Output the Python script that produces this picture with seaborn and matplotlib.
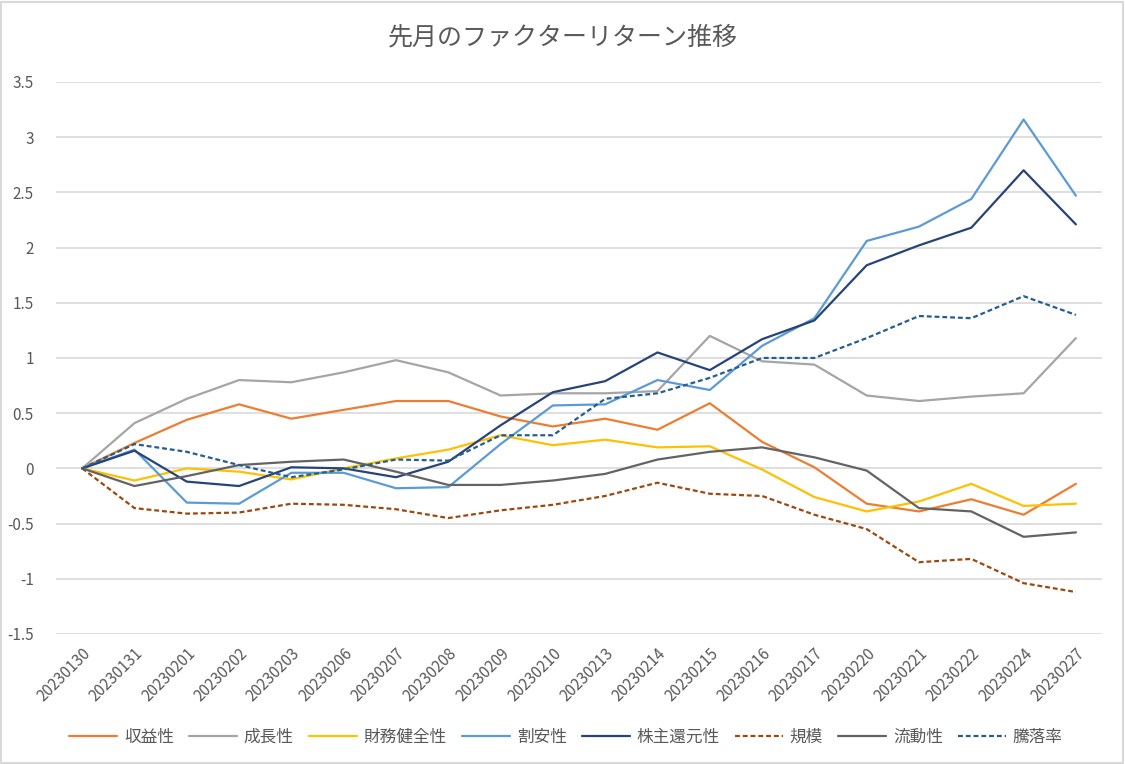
import matplotlib
matplotlib.use("Agg")
import matplotlib.pyplot as plt
import pandas as pd
import seaborn as sns

dates = ["20230130", "20230131", "20230201", "20230202", "20230203", "20230206",
         "20230207", "20230208", "20230209", "20230210", "20230213", "20230214",
         "20230215", "20230216", "20230217", "20230220", "20230221", "20230222",
         "20230224", "20230227"]

shueki = [0, 0.23, 0.44, 0.58, 0.45, 0.53, 0.61, 0.61, 0.47, 0.38,
          0.45, 0.35, 0.59, 0.24, 0.01, -0.32, -0.39, -0.28, -0.42, -0.14]
seicho = [0, 0.41, 0.63, 0.80, 0.78, 0.87, 0.98, 0.87, 0.66, 0.68,
          0.68, 0.70, 1.20, 0.97, 0.94, 0.66, 0.61, 0.65, 0.68, 1.18]
zaimu = [0, -0.11, 0.0, -0.03, -0.10, 0.0, 0.09, 0.17, 0.30, 0.21,
         0.26, 0.19, 0.20, -0.01, -0.26, -0.39, -0.30, -0.14, -0.34, -0.32]
wariyasu = [0, 0.17, -0.31, -0.32, -0.04, -0.04, -0.18, -0.17, 0.22, 0.57,
            0.58, 0.80, 0.71, 1.11, 1.36, 2.06, 2.19, 2.44, 3.16, 2.47]
kabunushi = [0, 0.16, -0.12, -0.16, 0.01, 0.0, -0.08, 0.06, 0.39, 0.69,
             0.79, 1.05, 0.89, 1.17, 1.34, 1.84, 2.02, 2.18, 2.70, 2.21]
kibo = [0, -0.36, -0.41, -0.40, -0.32, -0.33, -0.37, -0.45, -0.38, -0.33,
        -0.25, -0.13, -0.23, -0.25, -0.42, -0.55, -0.85, -0.82, -1.04, -1.12]
ryudo = [0, -0.16, -0.07, 0.03, 0.06, 0.08, -0.03, -0.15, -0.15, -0.11,
         -0.05, 0.08, 0.15, 0.19, 0.10, -0.02, -0.36, -0.39, -0.62, -0.58]
toraku = [0, 0.22, 0.15, 0.03, -0.08, -0.01, 0.08, 0.07, 0.30, 0.30,
          0.63, 0.68, 0.82, 1.00, 1.00, 1.18, 1.38, 1.36, 1.56, 1.39]

names = ["収益性", "成長性", "財務健全性", "割安性", "株主還元性", "規模", "流動性", "騰落率"]
series = [shueki, seicho, zaimu, wariyasu, kabunushi, kibo, ryudo, toraku]

colors = {"収益性": "#ED7D31", "成長性": "#A5A5A5", "財務健全性": "#FFC000", "割安性": "#5B9BD5",
          "株主還元性": "#264478", "規模": "#9E480E", "流動性": "#636363", "騰落率": "#255E91"}
dash_dict = {n: "" for n in names}
dash_dict["規模"] = (2.2, 1.3)
dash_dict["騰落率"] = (2.2, 1.3)

rows = []
for n, vals in zip(names, series):
    for d, v in zip(dates, vals):
        rows.append({"date": d, "factor": n, "value": v})
df = pd.DataFrame(rows)

sns.set_style("white")
plt.rcParams['font.family'] = ['Noto Sans CJK JP', 'DejaVu Sans']
txt = "#595959"

fig = plt.figure(figsize=(11.25, 7.64), dpi=100)
ax = fig.add_axes([0.0498, 0.1702, 0.9298, 0.7225])

sns.lineplot(data=df, x="date", y="value", hue="factor", style="factor",
             palette=colors, dashes=dash_dict, hue_order=names, style_order=names,
             sort=False, linewidth=1.6, ax=ax, legend=True)

ax.set_xlim(-0.5, len(dates) - 0.5)
ax.set_ylim(-1.5, 3.5)
ax.set_yticks([-1.5, -1, -0.5, 0, 0.5, 1, 1.5, 2, 2.5, 3, 3.5])
ax.set_yticklabels(["-1.5", "-1", "-0.5", "0", "0.5", "1", "1.5", "2", "2.5", "3", "3.5"])
ax.yaxis.grid(True, color="#D9D9D9", linewidth=1.2)
ax.xaxis.grid(False)
ax.set_axisbelow(True)
for s in ax.spines.values():
    s.set_visible(False)
ax.tick_params(axis="y", length=0, pad=16, labelsize=11, labelcolor=txt)
ax.tick_params(axis="x", length=0, pad=8, labelsize=11, labelcolor=txt)
for lab in ax.get_xticklabels():
    lab.set_rotation(45)
    lab.set_ha("right")
    lab.set_rotation_mode("anchor")
ax.set_xlabel("")
ax.set_ylabel("")

handles, labels = ax.get_legend_handles_labels()
ax.get_legend().remove()
leg = fig.legend(handles, labels, loc="center", bbox_to_anchor=(0.503, 0.035), ncol=8,
                 frameon=False, fontsize=12, handlelength=2.9, columnspacing=0.9,
                 handletextpad=0.4)
for t in leg.get_texts():
    t.set_color(txt)

fig.text(0.5, 0.951, "先月のファクターリターン推移", ha="center", va="center",
         fontsize=18, color=txt)

fig.patches.append(plt.Rectangle((0.001, 0.001), 0.997, 0.997, transform=fig.transFigure,
                                 fill=False, edgecolor="#D9D9D9", linewidth=1.5))

fig.savefig("out.png", dpi=100)
